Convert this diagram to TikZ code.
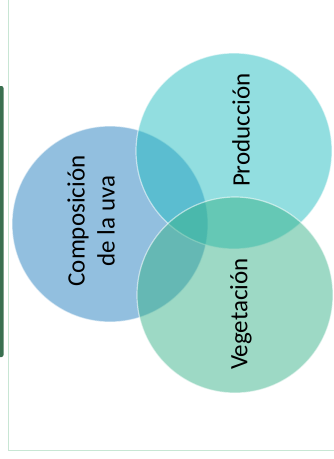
\documentclass[tikz,border=0pt]{standalone}
\usepackage{fontspec}
\setmainfont{Carlito}
\definecolor{uvablue}{HTML}{257FBF}
\definecolor{prodcyan}{HTML}{25BDC1}
\definecolor{vegegreen}{HTML}{3BB38B}
\definecolor{frameline}{HTML}{C8E6D4}
\definecolor{sidebar}{HTML}{3A7050}
\begin{document}
\begin{tikzpicture}[x=1pt, y=-1pt,
		venn/.style={circle, minimum size=196pt, inner sep=0pt, fill opacity=0.5, draw=white, draw opacity=0.55, line width=1.2pt},
		vtext/.style={rotate=90, align=center, text=black, font=\fontsize{25}{30}\selectfont},
	]
		\useasboundingbox (0,0) rectangle (334,459);

		\fill[sidebar, rounded corners=2pt] (-4,86) rectangle (3.5,357);
		\draw[frameline, line width=1pt] (8,0) -- (8,450) -- (334,450);

		\node[venn, fill=uvablue] (uva) at (110,224) {};
		\node[venn, fill=prodcyan] (prod) at (234,151) {};
		\node[venn, fill=vegegreen] (vege) at (235,295) {};

		\node[vtext] (uvatext) at (91,221) {Composición\\de la uva};
		\node[vtext] (prodtext) at (241,130) {Producción};
		\node[vtext] (vegetext) at (241,314) {Vegetación};
	\end{tikzpicture}
\end{document}
